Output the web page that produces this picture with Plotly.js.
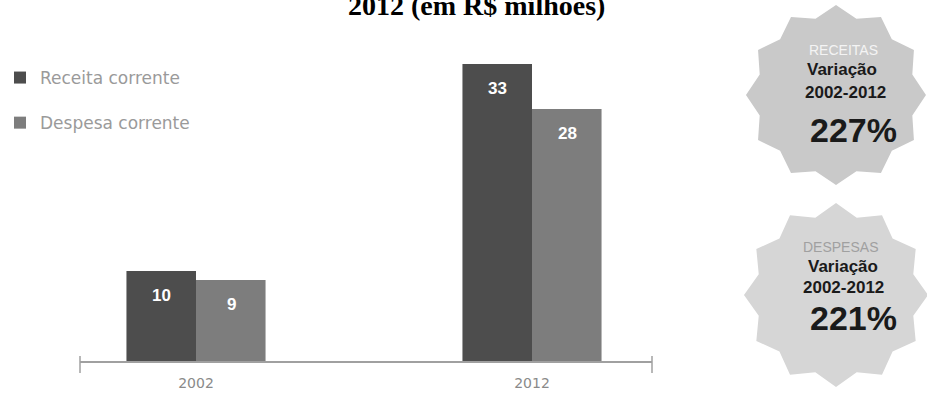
<!DOCTYPE html>
<html>
<head>
<meta charset="utf-8">
<script src="https://cdn.plot.ly/plotly-3.0.1.min.js"></script>
<style>html,body{margin:0;padding:0;background:#fff;}#chart{width:927px;height:395px;}</style>
</head>
<body>
<div id="chart"></div>
<script>
// ---- data ----
const categories = ["2002", "2012"];
const receita = [10, 33];
const despesa = [9, 28];
const seriesNames = ["Receita corrente", "Despesa corrente"];
const titleText = "2012 (em R$ milhões)";
const badgeReceitas = ["RECEITAS", "Variação", "2002-2012", "227%"];
const badgeDespesas = ["DESPESAS", "Variação", "2002-2012", "221%"];

// ---- layout helpers (pixel -> paper) ----
const W = 927, H = 395, ML = 80, MR = 275, MT = 46, MB = 34;
const PW = W - ML - MR, PH = H - MT - MB;
const px = X => (X - ML) / PW;
const py = Y => (H - MB - Y) / PH;

function starPath(cx, cy, ro, ri, n) {
  let d = "";
  for (let i = 0; i < 2 * n; i++) {
    const r = i % 2 === 0 ? ro : ri;
    const a = -Math.PI / 2 + i * Math.PI / n;
    const X = cx + r * Math.cos(a), Y = cy + r * Math.sin(a);
    d += (i === 0 ? "M" : "L") + px(X).toFixed(4) + "," + py(Y).toFixed(4);
  }
  return d + "Z";
}

const darkCol = "#4d4d4d", midCol = "#7d7d7d";

const traces = [
  {type: "bar", name: seriesNames[0], x: categories, y: receita, legendgroup: "a",
   marker: {color: darkCol}, hoverinfo: "none"},
  {type: "bar", name: seriesNames[1], x: categories, y: despesa, legendgroup: "b",
   marker: {color: midCol}, hoverinfo: "none"}
];

const annotations = [];
// data labels
categories.forEach((c, i) => {
  annotations.push({xref: "x", yref: "y", x: i, y: receita[i], text: "<b>" + receita[i] + "</b>",
    showarrow: false, xshift: -35, yshift: -24, xanchor: "center", yanchor: "middle",
    font: {family: "Liberation Sans", size: 17, color: "#ffffff"}});
  annotations.push({xref: "x", yref: "y", x: i, y: despesa[i], text: "<b>" + despesa[i] + "</b>",
    showarrow: false, xshift: 35, yshift: -24, xanchor: "center", yanchor: "middle",
    font: {family: "Liberation Sans", size: 17, color: "#ffffff"}});
});
// title (top cut off as in the reference)
annotations.push({xref: "paper", yref: "paper", x: px(476), y: py(5), text: "<b>" + titleText + "</b>",
  showarrow: false, xanchor: "center", yanchor: "middle",
  font: {family: "Liberation Serif", size: 28, color: "#000"}});

function badgeText(lines, xs, ys, firstColor) {
  const fonts = [
    {family: "Liberation Sans", size: 14, color: firstColor},
    {family: "Liberation Sans", size: 17, color: "#1a1a1a"},
    {family: "Liberation Sans", size: 17, color: "#1a1a1a"},
    {family: "Liberation Sans", size: 34, color: "#1a1a1a"}
  ];
  lines.forEach((t, i) => {
    annotations.push({xref: "paper", yref: "paper", x: px(xs[i]), y: py(ys[i]),
      text: i === 0 ? t : "<b>" + t + "</b>", showarrow: false, xanchor: "center", yanchor: "middle",
      font: fonts[i]});
  });
}
badgeText(badgeReceitas, [843, 842, 845, 853], [50, 70, 92, 130], "#f4f4f4");
badgeText(badgeDespesas, [840, 843, 843, 853], [247, 266, 287, 318], "#a0a0a0");

const shapes = [
  {type: "path", xref: "paper", yref: "paper", path: starPath(836, 95, 90, 79, 12),
   fillcolor: "#c9c9c9", line: {width: 0}, layer: "below"},
  {type: "path", xref: "paper", yref: "paper", path: starPath(836, 295, 92, 80, 12),
   fillcolor: "#d6d6d6", line: {width: 0}, layer: "below"},
  {type: "line", xref: "paper", yref: "paper", x0: 0, x1: 0, y0: py(356), y1: py(373),
   line: {color: "#a0a0a0", width: 1.5}},
  {type: "line", xref: "paper", yref: "paper", x0: 1, x1: 1, y0: py(356), y1: py(373),
   line: {color: "#a0a0a0", width: 1.5}}
];

const layout = {
  width: W, height: H,
  margin: {l: ML, r: MR, t: MT, b: MB, autoexpand: false},
  paper_bgcolor: "#fff", plot_bgcolor: "#fff",
  barmode: "group", bargap: 0.586, bargroupgap: 0,
  showlegend: true,
  legend: {xref: "container", yref: "container", x: 0, y: 1 - 60 / H,
    xanchor: "left", yanchor: "top", traceorder: "grouped", itemwidth: 30,
    tracegroupgap: 20, font: {family: "DejaVu Sans", size: 17, color: "#9a9a9a"},
    bgcolor: "rgba(0,0,0,0)"},
  xaxis: {type: "category", range: [-116 / 336, -116 / 336 + PW / 336], showgrid: false,
    showline: true, linecolor: "#a0a0a0", linewidth: 2, ticks: "", zeroline: false,
    tickfont: {family: "DejaVu Sans", size: 14, color: "#8a8a8a"}, ticklabelstandoff: 8},
  yaxis: {range: [0, 35], visible: false, showgrid: false, zeroline: false},
  annotations: annotations,
  shapes: shapes
};

Plotly.newPlot("chart", traces, layout, {staticPlot: true, displayModeBar: false});
</script>
</body>
</html>
